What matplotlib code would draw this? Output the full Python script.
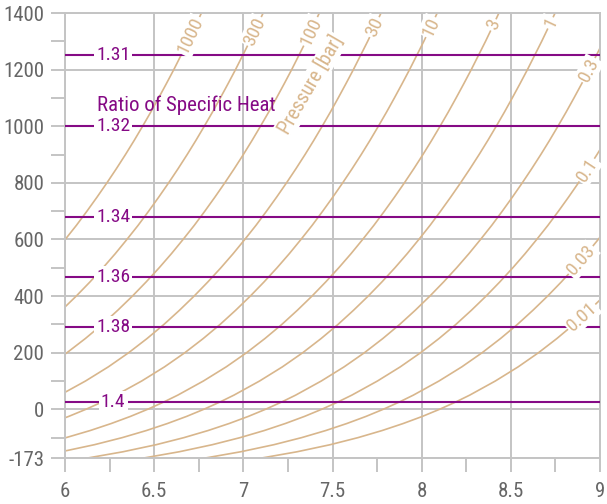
import numpy as np
import matplotlib
matplotlib.use("Agg")
import matplotlib.pyplot as plt
from matplotlib import font_manager

# Temperature grid [°C] and entropy of the 1 bar isobar [kJ/kgK]
temps_c = [-173, -150, -125, -100, -75, -50, -25, 0, 25, 50, 100, 150, 200, 250,
           300, 350, 400, 450, 500, 550, 600, 650, 700, 750, 800, 850, 900, 950,
           1000, 1050, 1100, 1150, 1200, 1250, 1300, 1350, 1400]
s_1bar = [5.772, 5.979, 6.165, 6.321, 6.456, 6.575, 6.682, 6.778, 6.866, 6.947,
          7.091, 7.219, 7.333, 7.436, 7.531, 7.618, 7.700, 7.777, 7.850, 7.919,
          7.984, 8.047, 8.106, 8.163, 8.218, 8.271, 8.322, 8.371, 8.418, 8.464,
          8.508, 8.551, 8.593, 8.633, 8.673, 8.711, 8.748]

# Isobars: label, entropy offset from the 1 bar curve, temperature of the label
pressures = ["1000", "300", "100", "30", "10", "3", "1", "0.3", "0.1", "0.03", "0.01"]
isobar_shift = [-1.983, -1.637, -1.322, -0.976, -0.661, -0.315, 0.0,
                0.346, 0.661, 1.006, 1.322]
label_temps = [1320, 1335, 1335, 1350, 1350, 1358, 1365, 1198, 845, 527, 326]

# Ratio of specific heat lines
gamma_labels = ["1.31", "1.32", "1.34", "1.36", "1.38", "1.4"]
gamma_temps = [1250, 1000, 680, 466, 290, 27]

x_ticks = [6, 6.5, 7, 7.5, 8, 8.5, 9]
x_ticklabels = ["6", "6.5", "7", "7.5", "8", "8.5", "9"]
y_ticks = [-173, 0, 200, 400, 600, 800, 1000, 1200, 1400]
y_ticklabels = ["-173", "0", "200", "400", "600", "800", "1000", "1200", "1400"]

names = {f.name for f in font_manager.fontManager.ttflist}
fam = "DejaVu Sans"
for cand in ["Roboto Condensed", "Liberation Sans Narrow", "Liberation Sans"]:
    if cand in names:
        fam = cand
        break
plt.rcParams["font.family"] = [fam, "DejaVu Sans"]

tan = "#d8b68c"
purple = "#850a85"
grid_c = "#c4c4c4"

fig = plt.figure(figsize=(6.07, 5.04), dpi=100)
ax = fig.add_axes([0.1071, 0.0907, 0.8814, 0.8835])
ax.set_xlim(6, 9)
ax.set_ylim(-173, 1400)

ax.set_xticks(x_ticks)
ax.set_xticklabels(x_ticklabels)
ax.set_xticks(np.arange(6.25, 9, 0.5), minor=True)
ax.set_yticks(y_ticks)
ax.set_yticklabels(y_ticklabels)
ax.set_yticks(np.arange(-100, 1400, 200), minor=True)
ax.tick_params(which="both", direction="out", length=10, width=1.4, color=grid_c,
               labelcolor="#666666", labelsize=15)
ax.tick_params(axis="x", which="both", pad=7)
ax.tick_params(axis="y", which="both", pad=5)
ax.grid(which="major", color=grid_c, lw=1.4)
ax.set_axisbelow(True)
for sp in ax.spines.values():
    sp.set_color(grid_c)
    sp.set_linewidth(1.4)

temps = np.array(temps_c, dtype=float)
base = np.array(s_1bar)

for p, shift in zip(pressures, isobar_shift):
    ax.plot(base + shift, temps, color=tan, lw=1.2, zorder=2)

for g, t in zip(gamma_labels, gamma_temps):
    ax.axhline(t, color=purple, lw=1.5, zorder=3)
    ax.text(6.27, t, g, color=purple, fontsize=14, ha="center", va="center",
            bbox=dict(facecolor="white", edgecolor="none", pad=1.5), zorder=4)

ax.text(6.18, 1075, "Ratio of Specific Heat", color=purple, fontsize=15,
        ha="left", va="center", zorder=4)

# pressure labels sit on their isobar, turned along the curve
fig.canvas.draw()
for p, shift, lt in zip(pressures, isobar_shift, label_temps):
    xs = base + shift
    x0 = np.interp(lt, temps, xs)
    xa, xb = np.interp([lt - 30, lt + 30], temps, xs)
    pa = ax.transData.transform((xa, lt - 30))
    pb = ax.transData.transform((xb, lt + 30))
    ang = np.degrees(np.arctan2(pb[1] - pa[1], pb[0] - pa[0]))
    ax.text(x0, lt, p, color=tan, fontsize=14, ha="center", va="center",
            rotation=ang, rotation_mode="anchor",
            bbox=dict(facecolor="white", edgecolor="none", pad=1), zorder=5)

ax.text(7.377, 1146, "Pressure [bar]", color=tan, fontsize=14.5, ha="center",
        va="center", rotation=60, rotation_mode="anchor",
        bbox=dict(facecolor="white", edgecolor="none", pad=1), zorder=5)

fig.savefig("out.png", dpi=100)
